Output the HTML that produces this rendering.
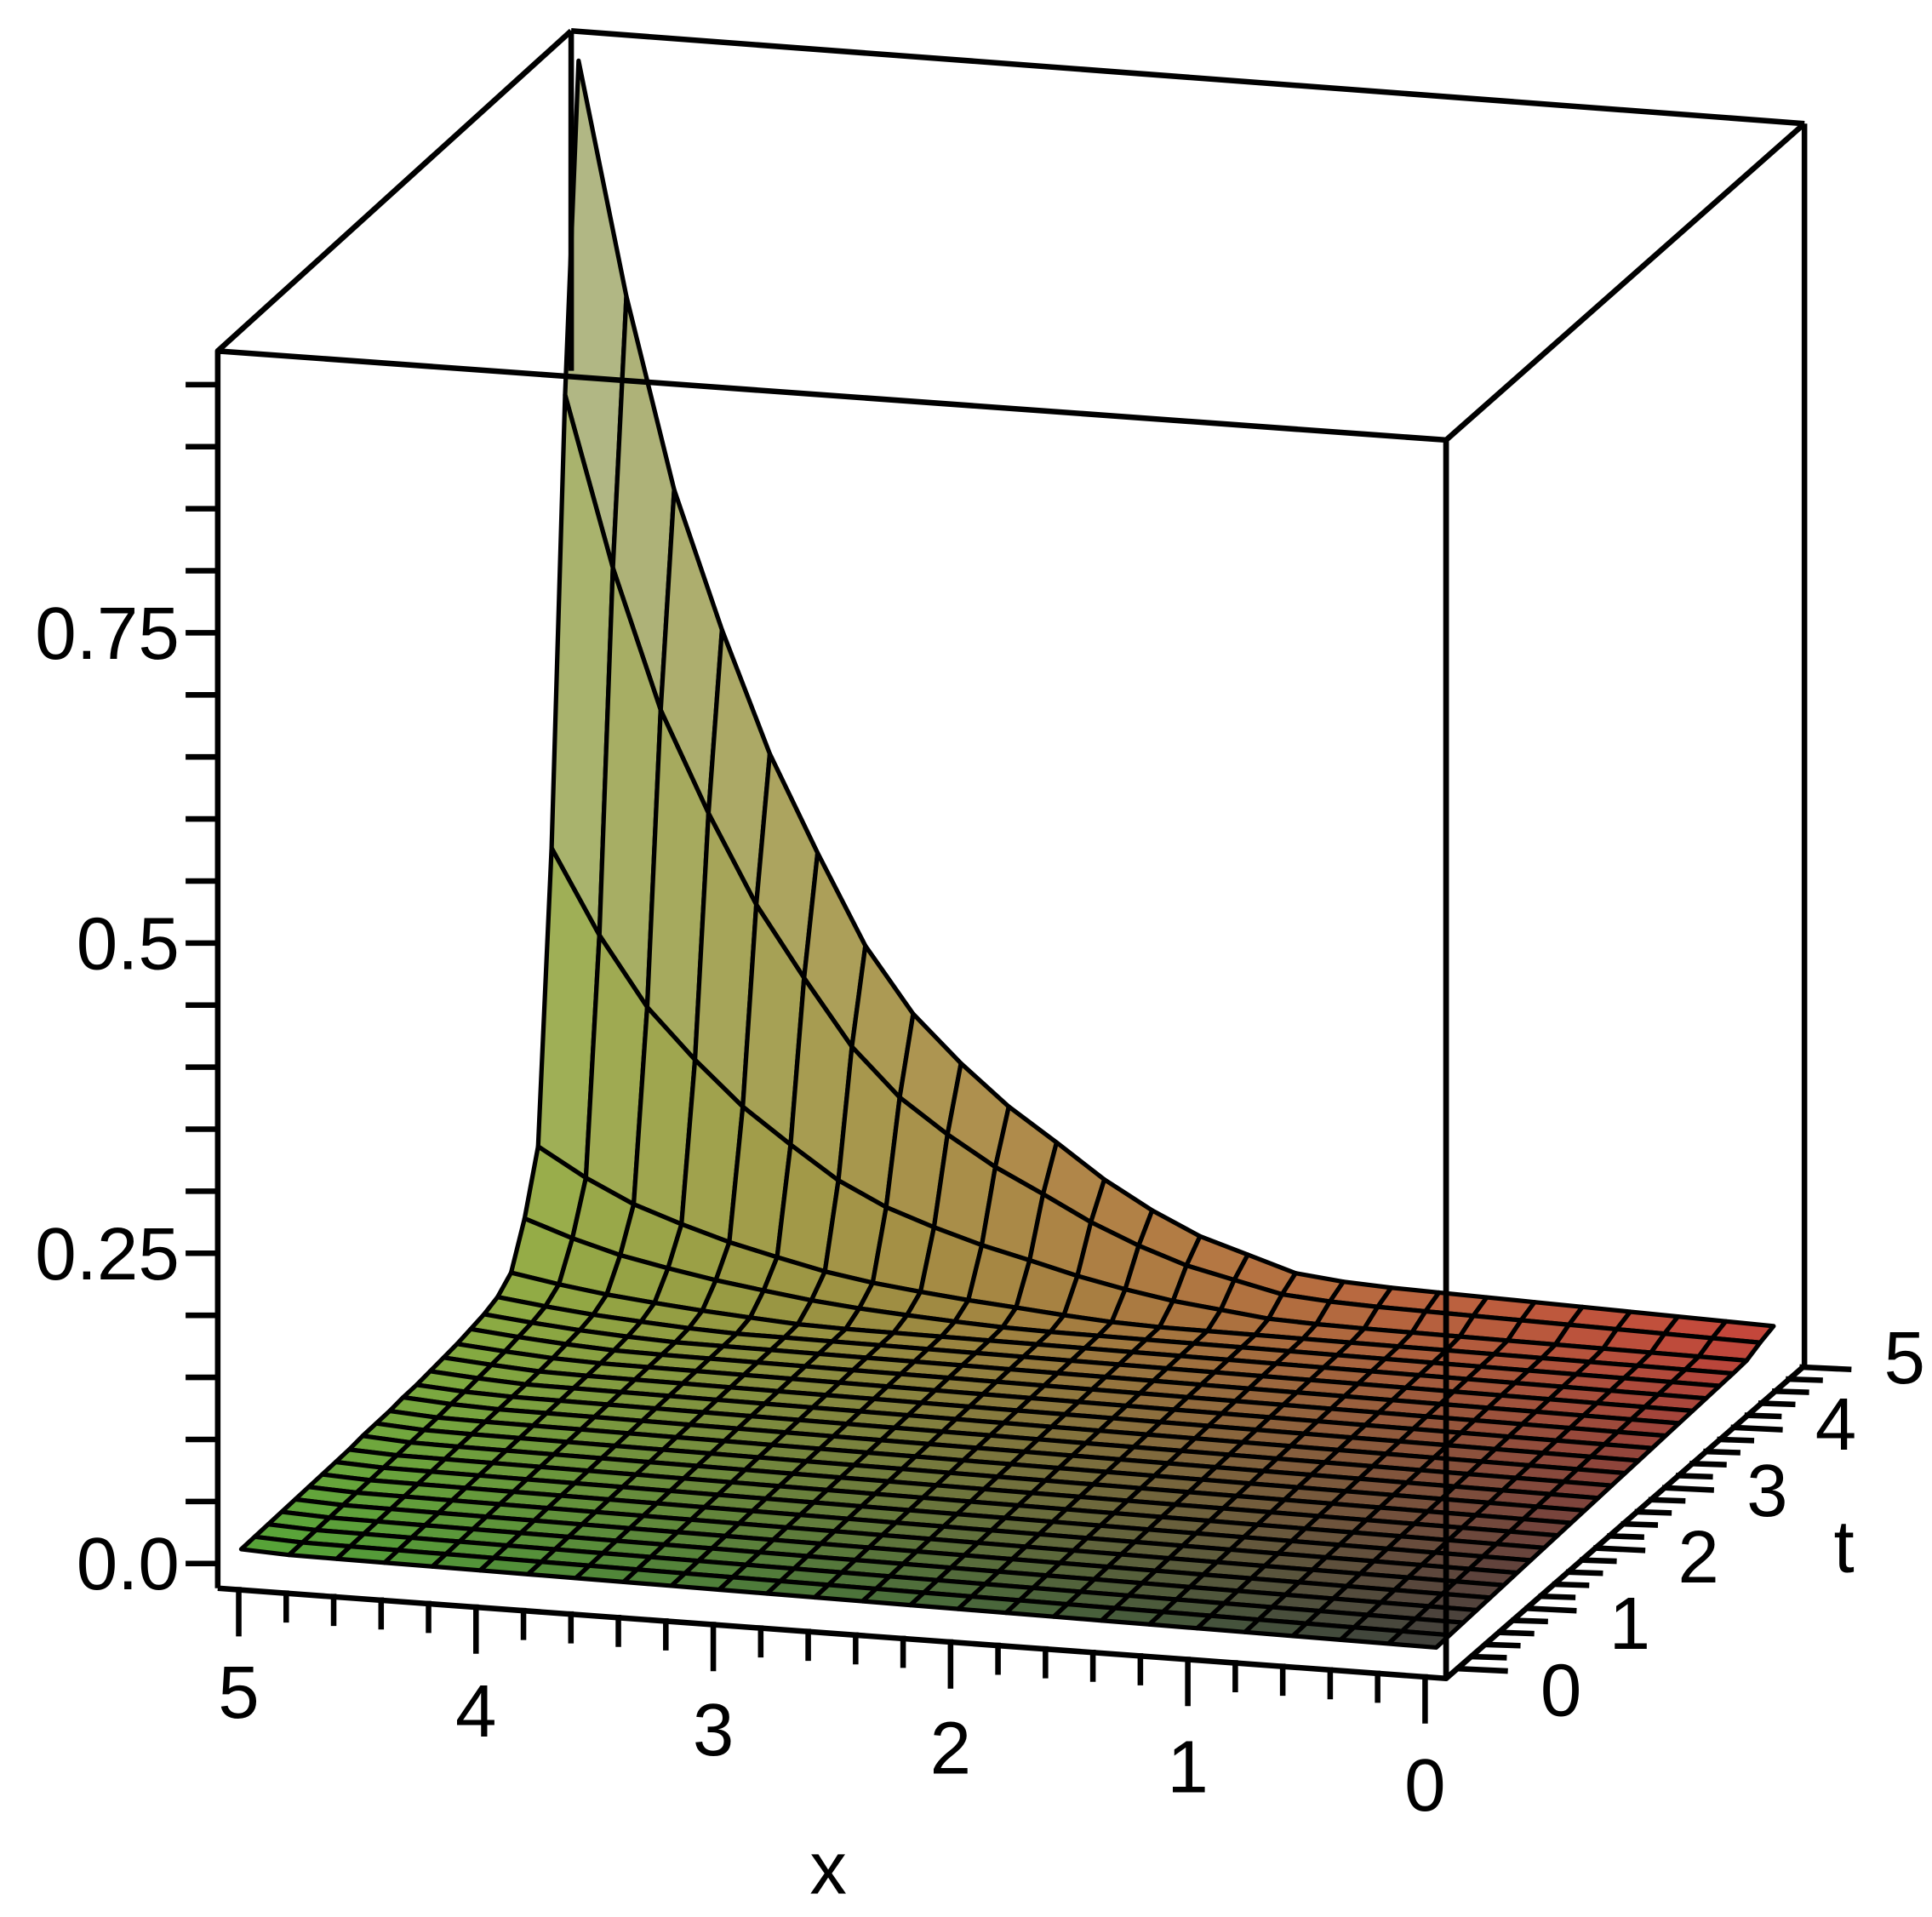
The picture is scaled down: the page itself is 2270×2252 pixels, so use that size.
<!DOCTYPE html>
<html><head><meta charset="utf-8"><style>
html,body{margin:0;padding:0;background:#fff;}
svg{display:block;}
text{font-family:"Liberation Sans",Arial,sans-serif;fill:#000;}
</style></head><body>
<svg id="chart" width="2270" height="2252" viewBox="0 0 1563 1551" xmlns="http://www.w3.org/2000/svg">
<g id="surface"></g>
<g id="frame" fill="none" stroke="#000" stroke-width="4.5" stroke-linejoin="round">
<polyline points="176,1285 176,284 1170,356 1170,1358 176,1285"/>
<line x1="176" y1="284" x2="462" y2="25"/>
<line x1="462" y1="25" x2="1460" y2="100"/>
<line x1="1170" y1="356" x2="1460" y2="100"/>
<line x1="1460" y1="100" x2="1460" y2="1105"/>
<line x1="462" y1="25" x2="462" y2="300"/>
<line x1="1170" y1="1358" x2="1460" y2="1105"/>
</g>
<g id="axes"></g>
</svg>
<script>
// Data
const xValues = [0,0.2,0.4,0.6,0.8,1,1.2,1.4,1.6,1.8,2,2.2,2.4,2.6,2.8,3,3.2,3.4,3.6,3.8,4,4.2,4.4,4.6,4.8,5];
const tValues = [0,0.2,0.4,0.6,0.8,1,1.2,1.4,1.6,1.8,2,2.2,2.4,2.6,2.8,3,3.2,3.4,3.6,3.8,4,4.2,4.4,4.6,4.8,5];
// height along back edge (t=5) indexed by x
const backProfile = [0.012,0.013,0.014,0.015,0.016,0.017,0.018,0.019,0.02,0.022,0.026,0.038,0.05,0.068,0.09,0.117,0.143,0.175,0.212,0.264,0.336,0.413,0.51,0.62,0.773,0.96];
// relative factor along t (index by t)
const tProfile = [0.012,0.012,0.012,0.012,0.012,0.012,0.012,0.012,0.012,0.013,0.013,0.013,0.014,0.014,0.015,0.016,0.017,0.019,0.021,0.025,0.035,0.07,0.12,0.36,0.73,1.0];
const zTicks = [0,0.25,0.5,0.75];
const zTickLabels = ["0.0","0.25","0.5","0.75"];
const xTickLabels = ["0","1","2","3","4","5"];
const tTickLabels = ["0","1","2","3","4","5"];

// projection
const O=[1162,1337], EX=[-193.4,-14.4], ET=[54.6,-50.4], EZ=-1004;
function P(x,t,z){return [O[0]+x*EX[0]+t*ET[0], O[1]+x*EX[1]+t*ET[1]+z*EZ];}
function Z(i,j){return Math.max(backProfile[i]*tProfile[j], 0.004+0.006*xValues[i]/5);}
function col(x,t,z){
  const u=x/5,v=t/5;
  const c00=[62,64,60],c10=[85,165,55],c01=[200,68,58],c11=[160,175,70];
  const c=[0,1,2].map(k=>c00[k]*(1-u)*(1-v)+c10[k]*u*(1-v)+c01[k]*(1-u)*v+c11[k]*u*v);
  const L=Math.min(1,z*1.1);
  const hi=[190,190,178];
  return 'rgb('+c.map((k,n)=>Math.round(k*(1-L*0.7)+hi[n]*L*0.7)).join(',')+')';
}
const NS='http://www.w3.org/2000/svg';
const surf=document.getElementById('surface');
for(let j=tValues.length-2;j>=0;j--){
  for(let i=xValues.length-2;i>=0;i--){
    const pts=[[i,j],[i+1,j],[i+1,j+1],[i,j+1]].map(([a,b])=>P(xValues[a],tValues[b],Z(a,b)));
    const zc=(Z(i,j)+Z(i+1,j)+Z(i+1,j+1)+Z(i,j+1))/4;
    const p=document.createElementNS(NS,'polygon');
    p.setAttribute('points',pts.map(q=>q.join(',')).join(' '));
    p.setAttribute('fill',col((xValues[i]+xValues[i+1])/2,(tValues[j]+tValues[j+1])/2,zc));
    p.setAttribute('stroke','#000');
    p.setAttribute('stroke-width','3.6');
    p.setAttribute('stroke-linejoin','round');
    
    
    surf.appendChild(p);
  }
}
const fe=document.createElementNS(NS,'line');
fe.setAttribute('x1','1170');fe.setAttribute('y1','356');fe.setAttribute('x2','1170');fe.setAttribute('y2','1358');
fe.setAttribute('stroke','#000');fe.setAttribute('stroke-width','4.5');


document.getElementById('frame').appendChild(fe);

const ax=document.getElementById('axes');
function line(x1,y1,x2,y2,name){
  const l=document.createElementNS(NS,'line');
  l.setAttribute('x1',x1);l.setAttribute('y1',y1);l.setAttribute('x2',x2);l.setAttribute('y2',y2);
  l.setAttribute('stroke','#000');l.setAttribute('stroke-width','4.5');
  
  
  ax.appendChild(l);
}
function text(x,y,s,anchor,name,size){
  const t=document.createElementNS(NS,'text');
  t.setAttribute('x',x);t.setAttribute('y',y);t.setAttribute('text-anchor',anchor);
  t.setAttribute('font-size',size||60);t.textContent=s;
  
  
  ax.appendChild(t);
}
// z axis
function zy(z){return 1265-z*1004;}
for(let k=0;k<=19;k++){const y=zy(k*0.05);line(150,y,176,y,'z-tick');}
zTicks.forEach((z,k)=>text(145,zy(z)+21,zTickLabels[k],'end','z-tick-label'));
// x axis
function xx(x){return 1153-x*192;}
for(let k=0;k<=25;k++){
  const x=k*0.2, px=xx(x), py=1290+(1153-px)*(-0.0735)+70.5;
  const major=(k%5===0);
  line(px,py-6,px,py+(major?34:20),'x-tick');
}
xTickLabels.forEach((s,k)=>{const px=xx(k);text(px,1465-k*15,s,'middle','x-tick-label');});
text(670,1532,'x','middle','x-axis-title');
// t axis
function tp(t){return [1178+t*55.6, 1350-t*48.8];}
for(let k=0;k<=25;k++){const t=k*0.2,p=tp(t),major=(k%5===0);line(p[0],p[1],p[0]+(major?42:30),p[1]+(major?2:1),'t-tick');}
tTickLabels.forEach((s,k)=>{const p=tp(k);text(p[0]+85,p[1]+38-k*5,s,'middle','t-tick-label');});
text(1492,1272,'t','middle','t-axis-title');
</script>
</body></html>
